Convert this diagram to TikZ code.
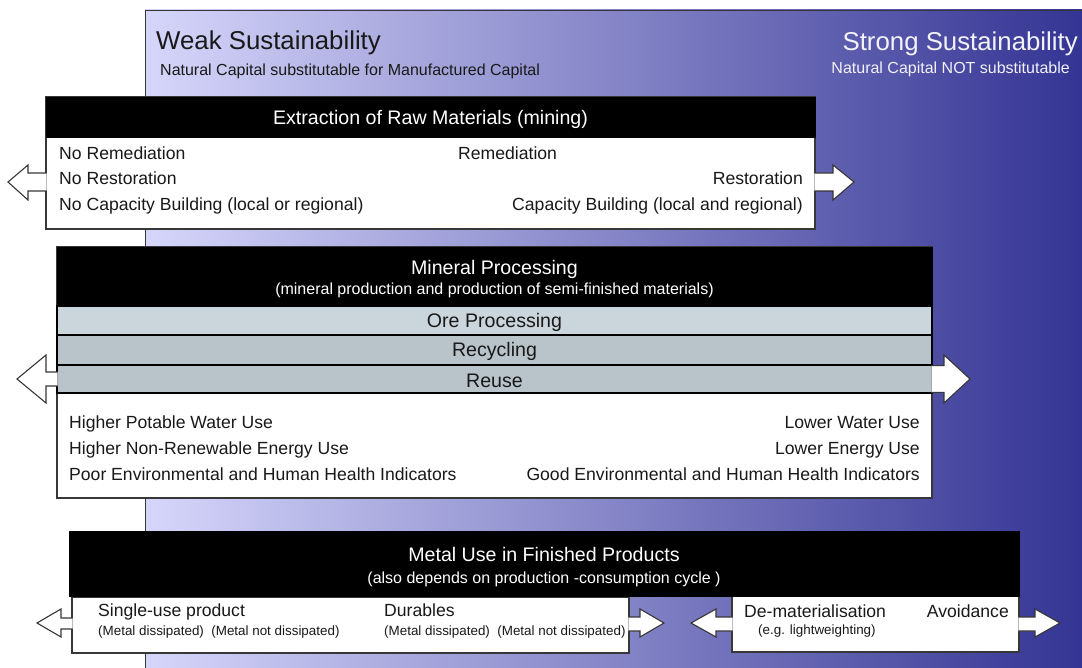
\documentclass[tikz,border=0pt]{standalone}
\usepackage{fontspec}
\setmainfont{Liberation Sans}
\definecolor{bgL}{RGB}{214,214,251}
\definecolor{bgM}{RGB}{152,152,212}
\definecolor{bgR}{RGB}{52,52,148}
\definecolor{oreband}{RGB}{202,214,219}
\definecolor{recband}{RGB}{184,196,201}
\definecolor{edge}{RGB}{55,55,55}
\definecolor{ink}{RGB}{25,25,25}
\definecolor{strongtxt}{RGB}{242,242,248}
\newcommand\ftitle{\fontsize{25.8}{30}\selectfont}
\newcommand\ftsub{\fontsize{16}{18}\selectfont}
\newcommand\fhead{\fontsize{19.6}{22}\selectfont}
\newcommand\fbody{\fontsize{17.6}{20}\selectfont}
\newcommand\fsubh{\fontsize{16}{18}\selectfont}
\newcommand\fsmall{\fontsize{13.4}{16}\selectfont}
\newcommand\blockarrow[8]{% X, y1, y2, headbase, headtop, headbottom, tipx, tipy
  \fill[white] (#1,#2) -- (#4,#2) -- (#4,#5) -- (#7,#8) -- (#4,#6) -- (#4,#3) -- (#1,#3) -- cycle;
  \draw[arrline] (#1,#2) -- (#4,#2) -- (#4,#5) -- (#7,#8) -- (#4,#6) -- (#4,#3) -- (#1,#3);
}
\begin{document}
\begin{tikzpicture}[x=1pt,y=-1pt,
  wbox/.style={fill=white, draw=edge, line width=1.1pt, inner sep=0pt, outer sep=0pt, anchor=north west},
  hdr/.style={fill=black, draw=black, line width=0.6pt, inner sep=0pt, outer sep=0pt, anchor=north west},
  band/.style={draw=black, line width=1.1pt, inner sep=0pt, outer sep=0pt, anchor=north west},
  arrline/.style={draw=edge, line width=1.1pt, line join=miter},
  txt/.style={inner sep=0pt, text=ink, font=\fbody},
  htxt/.style={inner sep=0pt, text=white, anchor=base},
]
\useasboundingbox (0,0) rectangle (1082,668);
% background gradient
\shade[left color=bgL, middle color=bgM, right color=bgR] (145,10) rectangle (1082,668);
\draw[edge, line width=1pt] (145,668) -- (145,10.5) -- (1082,10.5);

% titles
\node[txt, anchor=base west, font=\ftitle] (weak) at (156,50) {Weak Sustainability};
\node[txt, anchor=base west, font=\ftsub] (weaksub) at (160,76) {Natural Capital substitutable for Manufactured Capital};
\node[txt, text=strongtxt, anchor=base east, font=\ftitle] (strong) at (1078,51) {Strong Sustainability};
\node[txt, text=strongtxt, anchor=base east, font=\ftsub] (strongsub) at (1070,74) {Natural Capital NOT substitutable};

% ---- Box 1: Extraction
\node[wbox, minimum width=769pt, minimum height=132pt] (ext) at (46,97) {};
\node[hdr, minimum width=769pt, minimum height=40pt] (exthdr) at (46,97) {};
\node[htxt, font=\fhead] (exttitle) at (430.5,125) {Extraction of Raw Materials (mining)};
\node[txt, anchor=base west] (e1) at (59,159.5) {No Remediation};
\node[txt, anchor=base west] (e2) at (59,184.5) {No Restoration};
\node[txt, anchor=base west] (e3) at (59,210.5) {No Capacity Building (local or regional)};
\node[txt, anchor=base west] (e4) at (458,159.5) {Remediation};
\node[txt, anchor=base east] (e5) at (803,184.5) {Restoration};
\node[txt, anchor=base east] (e6) at (803,210.5) {Capacity Building (local and regional)};
\blockarrow{46.6}{173}{191}{28}{165}{200}{8}{182}
\blockarrow{814.4}{173}{191}{833}{165}{200}{854}{182}

% ---- Box 2: Mineral processing
\node[wbox, minimum width=875pt, minimum height=251pt] (mp) at (57,247) {};
\node[hdr, minimum width=875pt, minimum height=59pt] (mphdr) at (57,247) {};
\node[band, fill=oreband, minimum width=875pt, minimum height=29pt] (ore) at (57,306) {};
\node[band, fill=recband, minimum width=875pt, minimum height=30pt] (rec) at (57,335) {};
\node[band, fill=recband, minimum width=875pt, minimum height=28pt] (reu) at (57,365) {};
\node[htxt, font=\fhead] (mptitle) at (494.5,274.5) {Mineral Processing};
\node[htxt, font=\fsubh] (mpsub) at (494.5,294.5) {(mineral production and production of semi-finished materials)};
\node[txt, anchor=base, font=\fhead] (oret) at (494.5,327.5) {Ore Processing};
\node[txt, anchor=base, font=\fhead] (rect) at (494.5,357) {Recycling};
\node[txt, anchor=base, font=\fhead] (reut) at (494.5,387.5) {Reuse};
\node[txt, anchor=base west] (m1) at (69,428.5) {Higher Potable Water Use};
\node[txt, anchor=base west] (m2) at (69,454.5) {Higher Non-Renewable Energy Use};
\node[txt, anchor=base west] (m3) at (69,480.5) {Poor Environmental and Human Health Indicators};
\node[txt, anchor=base east] (m4) at (920,428.5) {Lower Water Use};
\node[txt, anchor=base east] (m5) at (920,454.5) {Lower Energy Use};
\node[txt, anchor=base east] (m6) at (920,480.5) {Good Environmental and Human Health Indicators};
\blockarrow{57.6}{372}{386}{46}{355}{403}{17}{379}
\blockarrow{931.4}{365.6}{392.4}{944}{355}{403}{970}{379}

% ---- Box 3: Metal use
\node[wbox, minimum width=557pt, minimum height=56pt] (prod) at (72,597) {};
\node[wbox, minimum width=287pt, minimum height=57pt] (dem) at (732,595) {};
\node[hdr, minimum width=950pt, minimum height=65pt] (muhdr) at (69,531) {};
\node[htxt, font=\fhead] (mutitle) at (544,561.5) {Metal Use in Finished Products};
\node[htxt, font=\fsubh] (musub) at (544,583.5) {(also depends on production -consumption cycle )};
\node[txt, anchor=base west] (p1) at (98,616.5) {Single-use product};
\node[txt, anchor=base west, font=\fsmall] (p1s) at (98,635) {(Metal dissipated)\ \ (Metal not dissipated)};
\node[txt, anchor=base west] (p2) at (384,616.5) {Durables};
\node[txt, anchor=base west, font=\fsmall] (p2s) at (384,635) {(Metal dissipated)\ \ (Metal not dissipated)};
\node[txt, anchor=base west] (d1) at (744,617) {De-materialisation};
\node[txt, anchor=base west, font=\fsmall] (d1s) at (758,634) {(e.g. lightweighting)};
\node[txt, anchor=base east] (d2) at (1009,617) {Avoidance};
\blockarrow{72.6}{618}{629}{61}{609}{637}{37}{623}
\blockarrow{628.4}{617}{631}{640}{609}{637}{664}{623}
\blockarrow{732.6}{617}{631}{716}{609}{637}{691}{623}
\blockarrow{1018.4}{617}{631}{1035}{609}{637}{1060}{623}
\end{tikzpicture}
\end{document}
